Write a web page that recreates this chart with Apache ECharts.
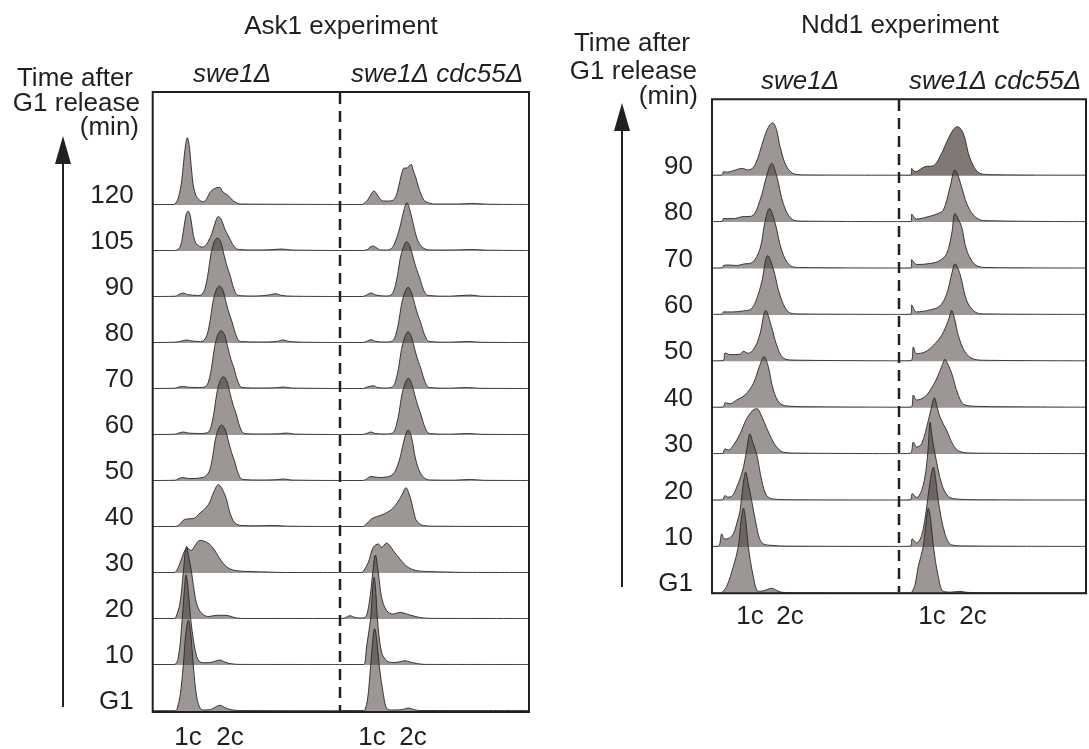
<!DOCTYPE html>
<html>
<head>
<meta charset="utf-8">
<script src="https://cdn.jsdelivr.net/npm/echarts@6/dist/echarts.min.js"></script>
<style>
  html, body { margin: 0; padding: 0; background: #fff; }
  #main { width: 1089px; height: 749px; }
</style>
</head>
<body>
<div id="main"></div>
<script>
// row labels, bottom to top
var askRows = ['G1', '10', '20', '30', '40', '50', '60', '70', '80', '90', '105', '120'];
var nddRows = ['G1', '10', '20', '30', '40', '50', '60', '70', '80', '90'];
var ploidyLabels = ['1c', '2c'];
// where the 1c / 2c labels sit on each column's DNA axis (0-100)
var askSweTicks = [18.8, 41.3];
var askCdcTicks = [16.9, 38.6];
var nddSweTicks = [20.3, 41.7];
var nddCdcTicks = [17.6, 39.6];

// histograms: [DNA content, cell count], one array per time point
var askSwe = [
  [[0,0.3],[12,0.3],[13,2],[14.6,15],[16.3,45],[17.7,78],[19,90.7],[20.3,78],[21.7,45],[23.5,14],[25.3,3],[27,1],[31,1.5],[33.5,4],[35.9,5.7],[38.5,3.5],[41.3,1.5],[46,0.5],[100,0.3]],
  [[0,0.5],[11.5,0.5],[13.7,8],[15.5,40],[16.8,72],[17.8,90],[18.9,76],[20.3,45.7],[22,22],[23.5,8.3],[25,3.5],[27,2.3],[31,2.5],[33.5,4],[35.9,5],[38.5,3],[41.3,1.5],[46,0.6],[100,0.5]],
  [[0,0.5],[11.5,0.5],[12.4,2],[14.6,16],[16.3,46],[18.1,72.7],[19.3,62],[20.8,46],[22.6,22.7],[24.3,11],[27,4.3],[30,2.5],[34,3.7],[38.6,3.7],[44.8,1],[50,0.5],[100,0.5]],
  [[0,0.5],[11.5,0.5],[13,3],[15,12],[17,22],[18.5,25],[20.5,22.5],[22.5,27],[25.3,32.7],[28.8,30.7],[31.5,26.7],[34.2,19.3],[36.8,11.7],[40.4,5],[44.8,2.3],[52,1.5],[61,1],[70,0.5],[100,0.5]],
  [[0,0.5],[12,0.5],[13.7,1.5],[16.3,6.7],[18.1,8],[21.7,8.5],[25.3,14],[29.7,22.3],[32.4,34],[35,42.3],[38.6,32],[41.3,14],[43.9,4],[47.5,1.5],[55,1.2],[64.4,1.5],[72,0.8],[100,0.5]],
  [[0,0.5],[12,0.8],[14,2.5],[16.3,3.5],[19,2.5],[22,2.5],[25,3],[27.5,4],[28.8,6],[30.3,10],[32,24],[33.3,40],[35.1,52],[36.8,56],[38.6,52],[40.4,40],[42.1,28.5],[43.6,20.5],[45.7,7.5],[48,1.5],[58,1],[66,1.3],[69.6,2],[74,1],[100,0.5]],
  [[0,0.5],[12,0.8],[14,2],[16.3,3],[19,2],[25,1.5],[29.4,2.5],[31.1,8],[32.9,24.7],[34.2,41.5],[36,54.3],[37.7,58.3],[39.5,54.3],[41.3,41.5],[43,29.6],[44.5,21.4],[46.6,7.9],[48.9,1.5],[58,1],[67,1.2],[71.4,2],[76,0.9],[100,0.5]],
  [[0,0.5],[12,0.8],[14,2],[16.3,2.5],[19,1.8],[25,1.5],[28.2,2.5],[29.9,8],[31.7,24.7],[33,41.5],[34.8,54.3],[36.5,58.3],[38.3,54.3],[40.1,41.5],[41.8,29.6],[43.3,21.4],[45.4,7.9],[47.7,1.5],[58,1],[66,1.3],[69.6,2],[74,1],[100,0.5]],
  [[0,0.5],[12,0.8],[15.5,2],[18.1,3],[21,2],[25,1.5],[27.3,2.5],[29,8],[30.8,24],[32.1,40.5],[33.9,53],[35.6,57],[37.4,53],[39.2,40.5],[40.9,29],[42.4,21],[44.5,7.7],[46.8,1.5],[58,1],[66,1.5],[69.6,3],[73,1.5],[80,0.8],[100,0.5]],
  [[0,0.5],[12,0.8],[14.5,3],[16.3,4],[18.5,2.5],[24,1.5],[26.2,2.5],[27.9,8.3],[29.7,25],[31,42],[32.8,55],[34.5,59],[36.3,55],[38.1,42],[39.8,30],[41.3,21.7],[43.4,8],[45.7,1.5],[55,1],[62,2],[65.3,3.3],[69,1.5],[75,0.8],[100,0.5]],
  [[0,0.5],[11,0.5],[13.5,1.5],[15,6],[16.4,20],[17.8,36],[19,40],[20.2,34],[21.5,18],[23,8],[25,4.5],[26.7,4],[28.5,6],[30,11],[31.5,17],[33.5,29],[35,34.5],[36.5,32],[38.5,22],[40.4,15],[42,9],[43.5,4.5],[46,1.5],[55,1],[62,1.2],[68.9,2],[74,1],[100,0.5]],
  [[0,0.5],[11,0.5],[11.9,1],[13.5,6],[15.5,24],[17,52],[18.5,67.3],[19.8,55],[21.3,24],[23,10],[25,5],[27,3.3],[28.8,6],[30.6,12.7],[33,16.5],[35.6,17.7],[37.5,13],[40.4,9.3],[42.5,5],[44.5,2.5],[46.6,1],[60,0.8],[100,0.5]]
];
var askCdc = [
  [[0,0.5],[12.5,0.5],[13.2,1],[14.6,12],[16.2,44.7],[17.4,72],[18.3,82.3],[19.4,72],[20.8,44.7],[22.9,17.3],[25,2],[28,1],[33,1.5],[36.2,3],[39,1.5],[42,0.5],[100,0.5]],
  [[0,0.5],[12.5,0.5],[13.3,3],[14.1,19],[16.2,46],[17.2,75],[18,87.7],[18.9,75],[19.8,46],[22,12.7],[24.7,4.3],[28,2.5],[31,3],[34.4,4.3],[37,3],[40.6,1.5],[45,0.6],[100,0.5]],
  [[0,0.5],[2.5,1],[5.3,3.3],[8,1.5],[10.6,1],[13.2,1.5],[15.5,16.7],[17.3,46],[18.7,64],[20.3,46],[22,21.7],[24.7,8.3],[28.2,5],[31.7,6.7],[34.5,5.5],[37,4],[42.3,1.5],[48,0.6],[100,0.5]],
  [[0,0.5],[11,0.5],[12.3,1.5],[15,10.7],[17.6,25.7],[20.3,29],[22,25.7],[24.7,30],[26.5,27],[28.2,22.3],[31.7,14],[35.3,6.7],[39.7,2.7],[45.9,1.5],[56.4,1],[65,0.6],[100,0.5]],
  [[0,0.5],[12,0.5],[13.2,1.5],[16.8,8.3],[19.4,10.3],[22.9,12.7],[27.3,17.7],[30.9,26],[33,33],[34.9,39.3],[36.4,34],[37.9,24.3],[39.3,13],[40.6,6],[44.1,1.5],[50,0.8],[100,0.5]],
  [[0,0.5],[12,0.5],[14,2],[16.4,4.5],[18.5,4],[21,3.5],[24.5,4],[27.5,6],[29.5,11],[32,25],[34.3,44],[36.1,51],[37.8,44],[40,22],[42.5,8],[45,2.5],[48,1],[60,0.8],[69,1.5],[76,0.7],[100,0.5]],
  [[0,0.5],[12,0.5],[14,1.5],[16.4,3],[18.5,1.5],[24,1],[27.8,2],[29.5,7.7],[31.3,23],[32.6,39],[34.4,51.5],[36.1,56.7],[37.9,51.5],[39.7,39],[41.4,28],[42.9,20],[45,7.5],[47.3,1.5],[58,0.8],[68,1.5],[75,0.7],[100,0.5]],
  [[0,0.5],[12,0.5],[14.5,2],[17.6,3.3],[20,1.5],[24,1],[27.7,2],[29.4,7.8],[31.2,23.3],[32.5,39.4],[34.3,52],[36,57.3],[37.8,52],[39.6,39.4],[41.3,28.3],[42.8,20.4],[44.9,7.6],[47.2,1.5],[58,0.8],[67,1.5],[74,0.7],[100,0.5]],
  [[0,0.5],[12,0.5],[14.5,2],[16.4,3.3],[19,1.5],[24,1],[27.7,2],[29.4,7.6],[31.2,22.6],[32.5,38.3],[34.3,50.6],[36,55.7],[37.8,50.6],[39.6,38.3],[41.3,27.5],[42.8,19.8],[44.9,7.4],[47.2,1.5],[58,0.8],[68,1.5],[75,0.7],[100,0.5]],
  [[0,0.5],[12,0.5],[14.5,2.5],[16.4,4],[19,2],[24,1],[27,2],[28.7,7.5],[30.5,22.5],[31.8,38],[33.6,50.3],[35.3,55.3],[37.1,50.3],[38.9,38],[40.6,27.3],[42.1,19.7],[44.2,7.3],[46.5,1.5],[58,0.8],[68.8,2],[75,0.7],[100,0.5]],
  [[0,0.5],[12,0.5],[14.5,1.5],[16,4],[17.6,5],[19.5,3],[21.5,1],[24.5,1],[26.9,2],[29,8],[31.6,23],[33.7,40],[35.4,48.3],[37.1,40],[39.2,23.3],[41,11],[42.9,5],[45,2],[48,1],[60,1],[69.4,1.5],[78,0.8],[100,0.5]],
  [[0,0.5],[11,0.5],[12.7,1.5],[15,6],[16.5,11],[18,14],[19.8,10],[21.5,5.5],[23.1,4],[26,4],[28.8,6],[30.6,15],[32.5,30.7],[34,37],[35.4,37],[36.5,39],[37.6,40.7],[38.8,34],[40.2,27],[41.5,18],[42.9,10.7],[44.3,5],[45.8,3],[50,1],[62,1],[69.4,1.5],[78,0.8],[100,0.5]]
];
var nddSwe = [
  [[0,0.3],[4.5,0.3],[5.2,0.6],[7.8,6.7],[11.4,26.7],[14.1,47],[15.5,72],[16.8,85],[18.1,72],[19.4,47],[22.1,16.7],[24.8,2],[27.5,2.5],[31.9,5],[34.5,3],[37.3,1],[45,0.5],[100,0.3]],
  [[0,0.5],[3.5,0.8],[5.2,13],[6.5,8],[7.8,8],[9.5,9],[11.4,13],[13.5,25],[15,36.3],[16.5,60],[18,74.7],[19.5,62],[21.2,46.3],[23.9,19.7],[25.5,8],[27.5,3],[32,1.5],[40,0.8],[100,0.5]],
  [[0,0.5],[5.5,0.7],[7,5],[8.5,3.3],[11,5],[13.2,13.3],[15,22],[16.8,33],[18.5,50],[20.3,66.7],[21.8,58],[23.9,46.3],[26.6,20],[29.2,5],[32.8,1.5],[40,0.8],[100,0.5]],
  [[0,0.5],[5.5,0.7],[7,5.3],[8.8,4],[11.4,8.7],[15,20.3],[18.5,35.3],[22.1,44.3],[24.2,45.3],[25.5,42],[27.5,33.7],[31,18.7],[34.6,7],[38.1,2],[45,1],[100,0.5]],
  [[0,0.5],[6,0.7],[7,5],[9.7,4],[13.2,7.7],[17.6,12.7],[22.1,24.3],[25.3,41],[27.8,51],[30.1,41],[32.8,17.7],[36.4,4.3],[41.7,1.5],[50,1],[100,0.5]],
  [[0,0.5],[6,0.7],[7,8.3],[9.7,6.7],[15,7],[16.8,10],[19.4,8],[23,14.3],[25.7,27.7],[28.7,50.7],[31.9,34],[34.6,16],[38.1,3.3],[44,1.2],[100,0.5]],
  [[0,0.5],[5.5,0.7],[6.1,3],[11,3],[16.8,4],[21,6],[23.9,16],[26.6,33],[29.8,59.3],[32.8,46],[36.4,19.3],[40.8,3],[46,1],[100,0.5]],
  [[0,0.5],[5.5,0.7],[6.1,3],[9,3.5],[13,3],[17,4.5],[21.5,6],[25.7,20],[28.3,46.3],[30.7,60],[33.7,46],[37.3,18],[41.7,3],[47,1],[100,0.5]],
  [[0,0.5],[5.5,0.7],[6.1,3.5],[11.4,3.5],[15.9,5.3],[21.2,6],[25.7,22],[29.2,46],[31.9,58.7],[34.6,46],[38.1,18.7],[42.6,3],[48,1],[100,0.5]],
  [[0,0.5],[5.5,0.7],[6.1,4],[8,3.5],[11.4,5],[15.9,7.3],[19.4,5.7],[23,10.7],[27.5,35.7],[30,48],[32.4,53],[34.5,46],[36.4,29],[39.9,9],[44.4,1.5],[50,0.8],[100,0.5]]
];
var nddCdc = [
  [[0,0.3],[6,0.3],[6.8,1],[8.5,8],[10.3,26.7],[13,47],[14.5,72],[15.7,85],[17,72],[18.4,47],[21,16.7],[23.7,2],[28,1.2],[32.6,2],[36,1],[45,0.5],[100,0.3]],
  [[0,0.5],[6,0.7],[7.1,8],[9.4,4],[12.1,11.3],[14.8,39.7],[16.6,65],[18.4,79.7],[19.8,65],[21,46.3],[24.6,13],[28.2,2],[35,1],[100,0.5]],
  [[0,0.5],[6,0.7],[7.1,7],[9.4,3],[12.1,10],[14.4,30],[15.7,55],[16.6,78.3],[17.8,62],[19.3,46.3],[22.8,16.7],[26.4,4],[30.8,1.5],[40,0.8],[100,0.5]],
  [[0,0.5],[6,0.7],[7.7,12],[9.4,7],[12.1,10.3],[15.7,33.7],[17.5,48],[18.9,56.3],[20.3,48],[21.9,37],[25.5,23.7],[29.1,8.7],[32.6,2.5],[40,1],[100,0.5]],
  [[0,0.5],[6.5,0.7],[7.7,12.7],[9.4,7.7],[13.9,11],[18.4,22.7],[21,32.7],[23,42],[24.6,48.3],[26.5,42],[28.2,34.3],[31.7,12.7],[35.3,2.7],[45,1.2],[54,1],[100,0.5]],
  [[0,0.5],[6.5,0.7],[7.7,14.3],[9.4,7.7],[13.9,9.3],[18.4,16],[22.8,26],[26.4,41],[28.2,50.7],[29.8,42],[31.7,26],[35.3,9.3],[39.8,2.3],[46.9,1],[100,0.5]],
  [[0,0.5],[6.5,0.7],[6.8,10],[9.4,3],[16.6,5],[21.9,9],[25.5,21],[28.2,41],[29.9,51],[32.6,41],[36.2,14.3],[40.6,3],[46,1],[100,0.5]],
  [[0,0.5],[6.5,0.7],[6.8,9],[9.4,4],[16.6,5],[21.9,8],[25.5,15],[28.2,35],[29.9,55],[31.5,50],[33.5,41.7],[36.2,18.3],[40.6,4],[46,1],[100,0.5]],
  [[0,0.5],[6.5,0.7],[6.8,8],[9.4,3],[14.8,5],[20.1,8],[23.7,12],[27.3,35],[29.9,52],[31.5,47],[33.5,35],[36.2,18.7],[39.8,7],[45.1,1.5],[100,0.5]],
  [[0,0.5],[6.5,0.7],[6.8,7.3],[8.6,4],[13.9,9],[18.4,10],[21.9,19],[26.4,37.3],[29,46],[31.2,49],[34.4,42.3],[38,17.3],[43.3,2.3],[50,1],[100,0.5]]
];

var ink = '#231f20';
var font = 'Liberation Sans, Arial, sans-serif';
var askStep = 46, nddStep = 46.4;

function ridge(curves, idx, step, darkRow) {
    return curves.map(function (pts, i) {
        var base = i * step;
        return {
            type: 'line',
            xAxisIndex: idx,
            yAxisIndex: idx,
            data: pts.map(function (p) { return [p[0], base + p[1]]; }),
            smooth: 0.35,
            symbol: 'none',
            silent: true,
            lineStyle: { color: '#2b2627', width: 0.9 },
            areaStyle: {
                color: i === darkRow ? 'rgba(66,56,52,0.68)' : 'rgba(66,56,52,0.52)',
                origin: base,
                opacity: 1
            }
        };
    });
}

function xAx(idx, ticks, margin) {
    return {
        gridIndex: idx, type: 'value', min: 0, max: 100,
        axisLine: { show: false }, axisTick: { show: false }, splitLine: { show: false },
        axisLabel: {
            customValues: ticks,
            formatter: function (v) { return v === ticks[0] ? ploidyLabels[0] : ploidyLabels[1]; },
            fontSize: 26, fontFamily: font, color: ink, margin: margin
        }
    };
}

function yAx(idx, max, step, rows) {
    return {
        gridIndex: idx, type: 'value', min: 0, max: max, interval: step,
        axisLine: { show: false }, axisTick: { show: false }, splitLine: { show: false },
        axisLabel: {
            show: !!rows,
            formatter: function (v) { return rows ? (rows[Math.round(v / step)] || '') : ''; },
            fontSize: 26, fontFamily: font, color: ink, margin: 19,
            verticalAlign: 'bottom', lineHeight: 18
        }
    };
}

function txt(x, y, s, align, italic) {
    return {
        type: 'text', x: x, y: y, silent: true,
        style: {
            text: s, fill: ink, align: align, verticalAlign: 'middle',
            font: (italic ? 'italic ' : '') + '26px ' + font
        }
    };
}

function arrow(x, top, bottom) {
    return [
        { type: 'line', silent: true, shape: { x1: x, y1: bottom, x2: x, y2: top + 20 }, style: { stroke: ink, lineWidth: 2 } },
        { type: 'polygon', silent: true, shape: { points: [[x - 8, top + 28], [x + 8, top + 28], [x, top]] }, style: { fill: ink } }
    ];
}

var chart = echarts.init(document.getElementById('main'));
var option = {
    animation: false,
    backgroundColor: '#fff',
    grid: [
        { left: 152.7, top: 92, width: 187.3, height: 619, outerBoundsMode: 'none' },
        { left: 340, top: 92, width: 189, height: 619, outerBoundsMode: 'none' },
        { left: 712, top: 99.3, width: 187, height: 494, outerBoundsMode: 'none' },
        { left: 899, top: 99.3, width: 187, height: 494, outerBoundsMode: 'none' }
    ],
    xAxis: [
        xAx(0, askSweTicks, 14), xAx(1, askCdcTicks, 14),
        xAx(2, nddSweTicks, 11), xAx(3, nddCdcTicks, 11)
    ],
    yAxis: [
        yAx(0, 619, askStep, askRows), yAx(1, 619, askStep, null),
        yAx(2, 494, nddStep, nddRows), yAx(3, 494, nddStep, null)
    ],
    series: [].concat(
        ridge(askSwe, 0, askStep, -1),
        ridge(askCdc, 1, askStep, -1),
        ridge(nddSwe, 2, nddStep, -1),
        ridge(nddCdc, 3, nddStep, 9)
    ),
    graphic: [
        { type: 'rect', silent: true, shape: { x: 152.7, y: 92, width: 376.3, height: 620 }, style: { fill: null, stroke: ink, lineWidth: 2 }, z: 10 },
        { type: 'rect', silent: true, shape: { x: 712, y: 99.3, width: 374, height: 494 }, style: { fill: null, stroke: ink, lineWidth: 2 }, z: 10 },
        { type: 'line', silent: true, shape: { x1: 340, y1: 93, x2: 340, y2: 711 }, style: { stroke: ink, lineWidth: 2.5, lineDash: [11, 7] }, z: 10 },
        { type: 'line', silent: true, shape: { x1: 899, y1: 100, x2: 899, y2: 592 }, style: { stroke: ink, lineWidth: 2.5, lineDash: [11, 7] }, z: 10 },
        txt(341, 27, 'Ask1 experiment', 'center'),
        txt(900, 26, 'Ndd1 experiment', 'center'),
        txt(133, 79, 'Time after', 'right'),
        txt(140, 104, 'G1 release', 'right'),
        txt(139, 128, '(min)', 'right'),
        txt(690, 44, 'Time after', 'right'),
        txt(697, 72, 'G1 release', 'right'),
        txt(698, 97, '(min)', 'right'),
        txt(232, 75, 'swe1Δ', 'center', true),
        txt(437, 75, 'swe1Δ cdc55Δ', 'center', true),
        txt(800, 82, 'swe1Δ', 'center', true),
        txt(995, 82, 'swe1Δ cdc55Δ', 'center', true)
    ].concat(arrow(63, 136, 707), arrow(622, 103, 587))
};
chart.setOption(option);
</script>
</body>
</html>
